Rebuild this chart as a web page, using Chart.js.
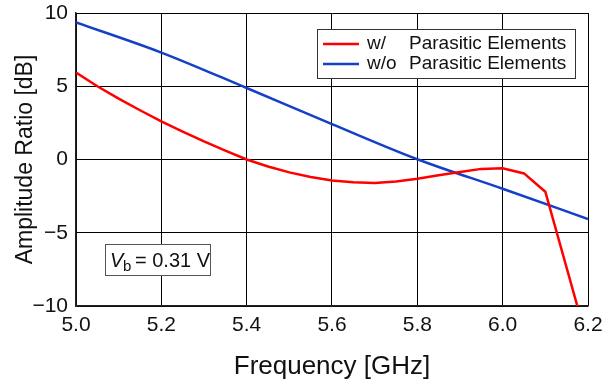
<!DOCTYPE html>
<html>
<head>
<meta charset="utf-8">
<script src="https://cdn.jsdelivr.net/npm/chart.js@4.4.0/dist/chart.umd.min.js"></script>
<style>
  html, body { margin: 0; padding: 0; background: #fff; }
</style>
</head>
<body>
<canvas id="myChart" width="613" height="385"></canvas>
<script>
// dados
const freqCom = [5.0, 5.05, 5.1, 5.15, 5.2, 5.25, 5.3, 5.35, 5.4, 5.45, 5.5, 5.55, 5.6, 5.65, 5.7, 5.75, 5.8, 5.85, 5.9, 5.95, 6.0, 6.05, 6.1, 6.2];
const ampCom = [5.94, 5.0, 4.15, 3.36, 2.6, 1.9, 1.23, 0.6, 0.0, -0.48, -0.88, -1.2, -1.43, -1.56, -1.6, -1.5, -1.32, -1.08, -0.85, -0.64, -0.6, -0.95, -2.2, -12.6];
const freqSem = [5.0, 5.2, 5.4, 5.6, 5.8, 6.0, 6.2];
const ampSem = [9.36, 7.3, 4.88, 2.42, 0.02, -2.0, -4.06];
const ticksX = [5.0, 5.2, 5.4, 5.6, 5.8, 6.0, 6.2];
const ticksY = [-10, -5, 0, 5, 10];

const fonte = 'Liberation Sans, Arial, Helvetica, sans-serif';
const vermelho = '#ff0000';
const azul = '#1440c8';

function pontos(xs, ys) {
    return xs.map(function (x, i) { return { x: x, y: ys[i] }; });
}

// legenda e caixa do Vb desenhadas por cima
const extras = {
    id: 'extras',
    afterDatasetsDraw(chart) {
        const c = chart.ctx;
        c.save();

        // legenda
        const lx = 317, ly = 29, lw = 258, lh = 49;
        c.fillStyle = '#fff';
        c.fillRect(lx, ly, lw, lh);
        c.strokeStyle = '#333';
        c.lineWidth = 1;
        c.strokeRect(lx + 0.5, ly + 0.5, lw, lh);
        c.font = '19px ' + fonte;
        c.textBaseline = 'middle';
        const linhas = [
            { cor: vermelho, a: 'w/', b: 'Parasitic Elements', y: 44 },
            { cor: azul, a: 'w/o', b: 'Parasitic Elements', y: 64 }
        ];
        linhas.forEach(function (l) {
            c.strokeStyle = l.cor;
            c.lineWidth = 2.5;
            c.beginPath();
            c.moveTo(323, l.y);
            c.lineTo(359, l.y);
            c.stroke();
            c.fillStyle = '#111';
            c.fillText(l.a, 367, l.y);
            c.fillText(l.b, 409, l.y);
        });

        // caixa Vb
        const bx = 105, by = 244, bw = 105, bh = 31;
        c.fillStyle = '#fff';
        c.fillRect(bx, by, bw, bh);
        c.strokeStyle = '#555';
        c.lineWidth = 1;
        c.strokeRect(bx + 0.5, by + 0.5, bw, bh);
        c.fillStyle = '#111';
        c.textBaseline = 'alphabetic';
        c.font = 'italic 20px ' + fonte;
        c.fillText('V', 110, 267);
        c.font = '15px ' + fonte;
        c.fillText('b', 123, 271);
        c.font = '20px ' + fonte;
        c.fillText('= 0.31 V', 135, 267);

        c.restore();
    }
};

const ctx = document.getElementById('myChart');

new Chart(ctx, {
    type: 'line',
    data: {
        datasets: [{
            label: 'w/ Parasitic Elements',
            data: pontos(freqCom, ampCom),
            borderColor: vermelho,
            borderWidth: 2.5,
            pointRadius: 0,
            tension: 0
        }, {
            label: 'w/o Parasitic Elements',
            data: pontos(freqSem, ampSem),
            borderColor: azul,
            borderWidth: 2.5,
            pointRadius: 0,
            cubicInterpolationMode: 'monotone'
        }]
    },
    options: {
        responsive: false,
        animation: false,
        devicePixelRatio: 1,
        layout: { padding: { left: 0, top: 13, right: 25, bottom: 0 } },
        plugins: {
            legend: { display: false },
            tooltip: { enabled: false }
        },
        scales: {
            x: {
                type: 'linear',
                min: 5.0,
                max: 6.2,
                afterBuildTicks(scale) {
                    scale.ticks = ticksX.map(function (v) { return { value: v }; });
                },
                afterFit(scale) {
                    scale.height = 79;
                    scale.paddingLeft = 0;
                    scale.paddingRight = 0;
                },
                border: { color: '#222', width: 1.5 },
                grid: { color: '#000', lineWidth: 1, drawTicks: false },
                ticks: {
                    color: '#111',
                    padding: 7,
                    font: { family: fonte, size: 21 },
                    callback: function (v) { return v.toFixed(1); }
                },
                title: {
                    display: true,
                    text: 'Frequency [GHz]',
                    color: '#111',
                    font: { family: fonte, size: 26 },
                    padding: { top: 0, bottom: 3 }
                }
            },
            y: {
                min: -10,
                max: 10,
                afterBuildTicks(scale) {
                    scale.ticks = ticksY.map(function (v) { return { value: v }; });
                },
                afterFit(scale) {
                    scale.width = 76;
                    scale.paddingTop = 0;
                    scale.paddingBottom = 0;
                },
                border: { color: '#222', width: 1.5 },
                grid: { color: '#000', lineWidth: 1, drawTicks: false },
                ticks: {
                    color: '#111',
                    padding: 8,
                    font: { family: fonte, size: 21 },
                    callback: function (v) { return v < 0 ? '\u2212' + Math.abs(v) : String(v); }
                },
                title: {
                    display: true,
                    text: 'Amplitude Ratio [dB]',
                    color: '#111',
                    font: { family: fonte, size: 23 },
                    padding: { top: 12, bottom: 0 }
                }
            }
        }
    },
    plugins: [extras]
});
</script>
</body>
</html>
